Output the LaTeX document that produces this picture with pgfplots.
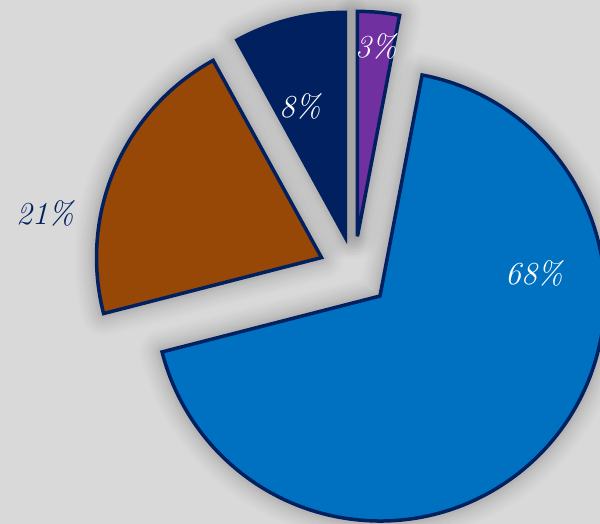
\documentclass[border=0pt]{standalone}
\usepackage{pgfplots}
\usepackage{pgfplotstable}
\pgfplotsset{compat=1.18}
\definecolor{bggray}{HTML}{D9D9D9}
\definecolor{cpurple}{HTML}{7030A0}
\definecolor{cblue}{HTML}{0070C0}
\definecolor{cbrown}{HTML}{974706}
\definecolor{cnavy}{HTML}{002060}
\pgfplotstableread{
idx value col
0 3 cpurple
1 68 cblue
2 21 cbrown
3 8 cnavy
}\piedata
\def\cx{354.1}\def\cy{252.3}\def\R{225}\def\ex{35.5}%
\def\cum{0}%
\pgfplotsforeachungrouped \i in {0,...,3}{%
  \pgfplotstablegetelem{\i}{value}\of\piedata
  \pgfmathsetmacro\aone{90-3.6*\cum}%
  \pgfmathsetmacro\cum{\cum+\pgfplotsretval}%
  \pgfmathsetmacro\atwo{90-3.6*\cum}%
  \pgfmathsetmacro\amid{(\aone+\atwo)/2}%
  \pgfmathsetmacro\px{\cx+\ex*cos(\amid)}%
  \pgfmathsetmacro\py{\cy+\ex*sin(\amid)}%
  \expandafter\xdef\csname aone\i\endcsname{\aone}%
  \expandafter\xdef\csname atwo\i\endcsname{\atwo}%
  \expandafter\xdef\csname px\i\endcsname{\px}%
  \expandafter\xdef\csname py\i\endcsname{\py}%
  \pgfplotstablegetelem{\i}{col}\of\piedata
  \expandafter\xdef\csname col\i\endcsname{\pgfplotsretval}%
}%
\newcommand\sector[2]{%
  \draw[#2] (axis cs:\csname px#1\endcsname,\csname py#1\endcsname) -- ++(\csname aone#1\endcsname:\R pt)
    arc[start angle=\csname aone#1\endcsname, end angle=\csname atwo#1\endcsname, radius=\R pt] -- cycle;%
}
\begin{document}
\begin{tikzpicture}
\useasboundingbox (0,0) rectangle (600pt,524pt);
\clip (0,0) rectangle (600pt,524pt);
\begin{axis}[width=600pt,height=524pt,scale only axis,
  xmin=0,xmax=600,ymin=0,ymax=524,hide axis,clip=true]
\fill[bggray] (axis cs:0,0) rectangle (axis cs:600,524);
\pgfplotsinvokeforeach{0,...,3}{
  \sector{#1}{black,opacity=0.012,line width=44pt,line join=round}
  \sector{#1}{black,opacity=0.014,line width=38pt,line join=round}
  \sector{#1}{black,opacity=0.016,line width=32pt,line join=round}
  \sector{#1}{black,opacity=0.018,line width=26pt,line join=round}
  \sector{#1}{black,opacity=0.02,line width=21pt,line join=round}
  \sector{#1}{black,opacity=0.022,line width=16pt,line join=round}
  \sector{#1}{black,opacity=0.025,line width=12pt,line join=round}
  \sector{#1}{black,opacity=0.03,line width=8pt,line join=round}
}
\pgfplotsinvokeforeach{0,...,3}{
  \sector{#1}{fill=\csname col#1\endcsname,draw=cnavy,line width=3.5pt,line join=miter}
}
\begin{scope}[every node/.style={font=\fontsize{32}{34}\selectfont\itshape}]
\node[white] at (axis cs:376,478) {3\%};
\node[white] at (axis cs:300,418) {8\%};
\node[cnavy] at (axis cs:45,311) {21\%};
\node[white] at (axis cs:534,251) {68\%};
\end{scope}
\end{axis}
\end{tikzpicture}
\end{document}
